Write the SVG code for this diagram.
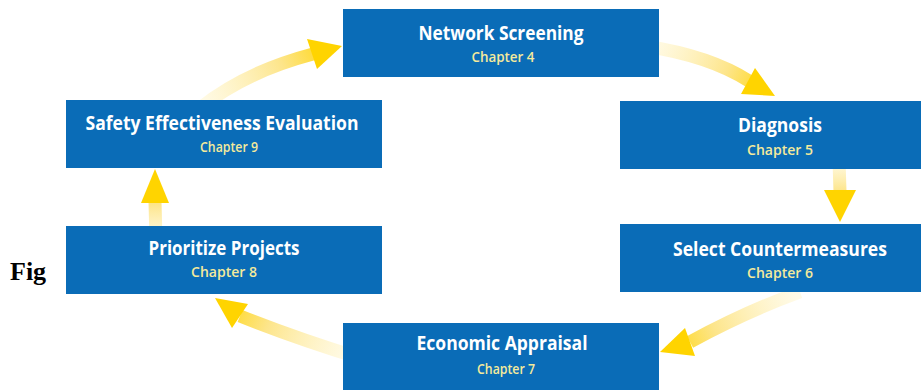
<svg xmlns="http://www.w3.org/2000/svg" width="921" height="390" viewBox="0 0 921 390">
<defs>
<style>
.box{fill:#0a6cb7}
.t{font-family:"Open Sans","Noto Sans",sans-serif;font-weight:700;font-size:19px;fill:#ffffff;text-anchor:middle}
.c{font-family:"Open Sans","Noto Sans",sans-serif;font-weight:600;font-size:15px;fill:#f4ea9c;text-anchor:middle}
.shaft{fill:none;stroke-width:13;stroke-linecap:butt}
</style>
<linearGradient id="g1" gradientUnits="userSpaceOnUse" x1="200" y1="105" x2="340" y2="46"><stop offset="0" stop-color="#fff6cf" stop-opacity="0.5"/><stop offset="0.6" stop-color="#fde58a"/><stop offset="1" stop-color="#ffd400"/></linearGradient>
<linearGradient id="g2" gradientUnits="userSpaceOnUse" x1="650" y1="46" x2="775" y2="96"><stop offset="0" stop-color="#fff6cf" stop-opacity="0.5"/><stop offset="0.6" stop-color="#fde58a"/><stop offset="1" stop-color="#ffd400"/></linearGradient>
<linearGradient id="g3" gradientUnits="userSpaceOnUse" x1="840" y1="160" x2="840" y2="222"><stop offset="0" stop-color="#fff6cf" stop-opacity="0.6"/><stop offset="0.5" stop-color="#fde58a"/><stop offset="1" stop-color="#ffd400"/></linearGradient>
<linearGradient id="g4" gradientUnits="userSpaceOnUse" x1="795" y1="295" x2="660" y2="352"><stop offset="0" stop-color="#fff6cf" stop-opacity="0.5"/><stop offset="0.6" stop-color="#fde58a"/><stop offset="1" stop-color="#ffd400"/></linearGradient>
<linearGradient id="g5" gradientUnits="userSpaceOnUse" x1="350" y1="356" x2="215" y2="298"><stop offset="0" stop-color="#fff6cf" stop-opacity="0.5"/><stop offset="0.6" stop-color="#fde58a"/><stop offset="1" stop-color="#ffd400"/></linearGradient>
<linearGradient id="g6" gradientUnits="userSpaceOnUse" x1="155" y1="240" x2="155" y2="168"><stop offset="0" stop-color="#fff6cf" stop-opacity="0.6"/><stop offset="0.5" stop-color="#fde58a"/><stop offset="1" stop-color="#ffd400"/></linearGradient>
</defs>
<rect width="921" height="390" fill="#ffffff"/>
<text x="10" y="280" font-family="Liberation Serif,serif" font-weight="700" font-size="26" fill="#000">Fig</text>
<rect x="48" y="0" width="873" height="390" fill="#ffffff"/>
<g id="connectors">
<path class="shaft" stroke="url(#g1)" d="M200,108 Q245,72 313,54"/>
<polygon fill="#ffd400" points="307,39 342,46 317,69"/>
<path class="shaft" stroke="url(#g2)" d="M645,46 Q710,56 749,81"/>
<polygon fill="#ffd400" points="755,68 775,96 741,94"/>
<path class="shaft" stroke="url(#g3)" d="M839,160 L840,192"/>
<polygon fill="#ffd400" points="824,190 856,190 840,222"/>
<path class="shaft" stroke="url(#g4)" d="M800,292 Q745,312 690,342"/>
<polygon fill="#ffd400" points="685,328 660,352 695,356"/>
<path class="shaft" stroke="url(#g5)" d="M360,358 Q295,338 240,316"/>
<polygon fill="#ffd400" points="248,304 215,298 232,328"/>
<path class="shaft" stroke="url(#g6)" d="M156,240 L155,202"/>
<polygon fill="#ffd400" points="141,203 169,203 155,169"/>
</g>
<g id="network-screening"><rect class="box" x="343" y="9" width="316" height="68"/><text class="t" x="501" y="40" textLength="165" lengthAdjust="spacingAndGlyphs">Network Screening</text><text class="c" x="503" y="62" textLength="63" lengthAdjust="spacingAndGlyphs">Chapter 4</text></g>
<g id="diagnosis"><rect class="box" x="620" y="101" width="316" height="68"/><text class="t" x="780" y="132" textLength="84" lengthAdjust="spacingAndGlyphs">Diagnosis</text><text class="c" x="780" y="155" textLength="66" lengthAdjust="spacingAndGlyphs">Chapter 5</text></g>
<g id="select-countermeasures"><rect class="box" x="620" y="224" width="316" height="68"/><text class="t" x="780" y="256" textLength="214" lengthAdjust="spacingAndGlyphs">Select Countermeasures</text><text class="c" x="780" y="278" textLength="66" lengthAdjust="spacingAndGlyphs">Chapter 6</text></g>
<g id="economic-appraisal"><rect class="box" x="343" y="323" width="316" height="67"/><text class="t" x="502" y="350" textLength="171" lengthAdjust="spacingAndGlyphs">Economic Appraisal</text><text class="c" x="506" y="374" textLength="58" lengthAdjust="spacingAndGlyphs">Chapter 7</text></g>
<g id="prioritize-projects"><rect class="box" x="66" y="226" width="316" height="68"/><text class="t" x="224" y="255" textLength="151" lengthAdjust="spacingAndGlyphs">Prioritize Projects</text><text class="c" x="224" y="277" textLength="66" lengthAdjust="spacingAndGlyphs">Chapter 8</text></g>
<g id="safety-effectiveness-evaluation"><rect class="box" x="66" y="100" width="316" height="68"/><text class="t" x="222" y="130" textLength="273" lengthAdjust="spacingAndGlyphs">Safety Effectiveness Evaluation</text><text class="c" x="229" y="152" textLength="58" lengthAdjust="spacingAndGlyphs">Chapter 9</text></g>
</svg>
